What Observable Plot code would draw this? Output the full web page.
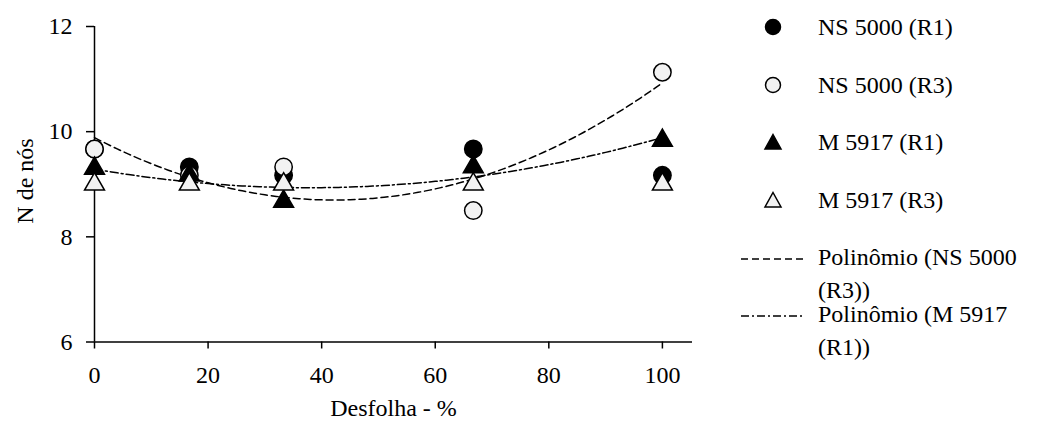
<!DOCTYPE html>
<html>
<head>
<meta charset="utf-8">
<script src="https://cdn.jsdelivr.net/npm/d3@7"></script>
<script src="https://cdn.jsdelivr.net/npm/@observablehq/plot@0.6"></script>
<style>
  html, body { margin: 0; padding: 0; background: #fff; }
  #wrap { position: relative; width: 1042px; height: 426px; font-family: "Liberation Serif", "Times New Roman", Tinos, "DejaVu Serif", "Noto Serif", "Nimbus Roman", FreeSerif, Times, serif; color: #000; }
  #chart { position: absolute; left: 0; top: 0; }
  .leg { position: absolute; font-size: 24px; line-height: 22px; white-space: nowrap; }
  .sym { position: absolute; }
  .ylab { position: absolute; font-size: 24px; line-height: 24px; white-space: nowrap; transform: translate(-50%, -50%) rotate(-90deg); }
</style>
</head>
<body>
<div id="wrap"><div id="chart"></div></div>
<script>
// ---- data ----
const desfolha = [0, 16.7, 33.3, 66.7, 100];
const ns5000R1 = [9.67, 9.33, 9.17, 9.67, 9.17];
const ns5000R3 = [9.67, 9.17, 9.33, 8.5, 11.13];
const m5917R1 = [9.3, 9.17, 8.67, 9.33, 9.83];
const m5917R3 = [9.0, 9.0, 9.0, 9.0, 9.0];
const xTicks = [0, 20, 40, 60, 80, 100];
const yTicks = [6, 8, 10, 12];
const seriesNames = ["NS 5000 (R1)", "NS 5000 (R3)", "M 5917 (R1)", "M 5917 (R3)"];
const trendNames = [["Polinômio (NS 5000", "(R3))"], ["Polinômio (M 5917", "(R1))"]];
const xLabel = "Desfolha - %";
const yLabel = "N de nós";

const rows = (ys) => desfolha.map((x, i) => ({x, y: ys[i]}));

// second-order polynomial trendline (least squares), as in the spreadsheet trendline
function quadFit(xs, ys) {
  const n = xs.length;
  let s = [0, 0, 0, 0, 0], t = [0, 0, 0];
  for (let i = 0; i < n; i++) {
    const x = xs[i], y = ys[i];
    for (let k = 0; k < 5; k++) s[k] += Math.pow(x, k);
    for (let k = 0; k < 3; k++) t[k] += Math.pow(x, k) * y;
  }
  const A = [[s[0], s[1], s[2], t[0]], [s[1], s[2], s[3], t[1]], [s[2], s[3], s[4], t[2]]];
  for (let i = 0; i < 3; i++) {
    for (let j = i + 1; j < 3; j++) {
      const f = A[j][i] / A[i][i];
      for (let k = i; k < 4; k++) A[j][k] -= f * A[i][k];
    }
  }
  const c = [0, 0, 0];
  for (let i = 2; i >= 0; i--) {
    let v = A[i][3];
    for (let k = i + 1; k < 3; k++) v -= A[i][k] * c[k];
    c[i] = v / A[i][i];
  }
  return c;
}
function trend(ys) {
  const c = quadFit(desfolha, ys);
  return d3.range(0, 100.001, 1).map(x => ({x, y: c[0] + c[1] * x + c[2] * x * x}));
}

const serifFont = "'Liberation Serif', 'Times New Roman', Tinos, 'DejaVu Serif', 'Noto Serif', 'Nimbus Roman', FreeSerif, Times, serif";
const light = "#f2f2f2";
const chart = Plot.plot({
  width: 700,
  height: 426,
  marginLeft: 94,
  marginRight: 8,
  marginTop: 26,
  marginBottom: 84.5,
  x: {domain: [0, 105.3]},
  y: {domain: [6, 12]},
  style: {fontFamily: serifFont, fontSize: "24px", color: "#000", background: "#fff", overflow: "visible"},
  marks: [
    Plot.axisX({ticks: xTicks, tickFormat: d => String(d), tickSize: 7, tickPadding: 17, strokeWidth: 1.5, label: null}),
    Plot.axisY({ticks: yTicks, tickFormat: d => String(d), tickSize: 8, tickPadding: 14, strokeWidth: 1.5, label: null}),
    Plot.ruleY([6], {stroke: "#000", strokeWidth: 1.5}),
    Plot.ruleX([0], {stroke: "#000", strokeWidth: 1.5}),
    Plot.line(trend(ns5000R3), {x: "x", y: "y", stroke: "#000", strokeWidth: 1.5, strokeDasharray: "7,4"}),
    Plot.line(trend(m5917R1), {x: "x", y: "y", stroke: "#000", strokeWidth: 1.5, strokeDasharray: "8,3,2,3"}),
    Plot.dot(rows(ns5000R1), {x: "x", y: "y", symbol: "circle", r: 8.7, fill: "#000", stroke: "#000", strokeWidth: 1.5}),
    Plot.dot(rows(ns5000R3), {x: "x", y: "y", symbol: "circle", r: 8.7, fill: light, stroke: "#000", strokeWidth: 1.5}),
    Plot.dot(rows(m5917R1), {x: "x", y: "y", symbol: "triangle", r: 7.4, fill: "#000", stroke: "#000", strokeWidth: 1.5}),
    Plot.dot(rows(m5917R3), {x: "x", y: "y", symbol: "triangle", r: 7.4, fill: light, stroke: "#000", strokeWidth: 1.5}),
    Plot.text([xLabel], {frameAnchor: "bottom", lineAnchor: "middle", textAnchor: "middle", dy: 66.5, fontSize: 24})
  ]
});
document.getElementById("chart").appendChild(chart);

const wrap = document.getElementById("wrap");
// y-axis title (rotated)
const yl = document.createElement("div");
yl.className = "ylab";
yl.style.left = "25px";
yl.style.top = "181px";
yl.textContent = yLabel;
wrap.appendChild(yl);

function addText(str, centerY) {
  const t = document.createElement("div");
  t.className = "leg";
  t.style.left = "818px";
  t.style.top = (centerY - 11) + "px";
  t.textContent = str;
  wrap.appendChild(t);
}

// ---- legend (HTML, to the right of the plot) ----
const markerRowsY = [27, 85, 142, 200];
const markerSvgs = [
  '<svg width="22" height="22"><circle cx="11" cy="11" r="7.5" fill="#000" stroke="#000" stroke-width="1.5"/></svg>',
  '<svg width="22" height="22"><circle cx="11" cy="11" r="7.5" fill="' + light + '" stroke="#000" stroke-width="1.5"/></svg>',
  '<svg width="22" height="22"><path d="M11,3.5L19,18H3Z" fill="#000" stroke="#000" stroke-width="1.5"/></svg>',
  '<svg width="22" height="22"><path d="M11,3.5L19,18H3Z" fill="' + light + '" stroke="#000" stroke-width="1.5"/></svg>'
];
seriesNames.forEach((name, i) => {
  const s = document.createElement("div");
  s.className = "sym";
  s.style.left = "762px";
  s.style.top = (markerRowsY[i] - 11) + "px";
  s.innerHTML = markerSvgs[i];
  wrap.appendChild(s);
  addText(name, markerRowsY[i]);
});
const trendRowsY = [257, 314];
const lineGap = 33;
const dashes = ["7,4", "8,3,2,3"];
trendNames.forEach((lines, i) => {
  const s = document.createElement("div");
  s.className = "sym";
  s.style.left = "741px";
  s.style.top = (trendRowsY[i] - 2 - 5) + "px";
  s.innerHTML = '<svg width="64" height="10"><line x1="0" y1="5" x2="62" y2="5" stroke="#000" stroke-width="1.5" stroke-dasharray="' + dashes[i] + '"/></svg>';
  wrap.appendChild(s);
  lines.forEach((ln, k) => addText(ln, trendRowsY[i] + k * lineGap));
});
</script>
</body>
</html>
